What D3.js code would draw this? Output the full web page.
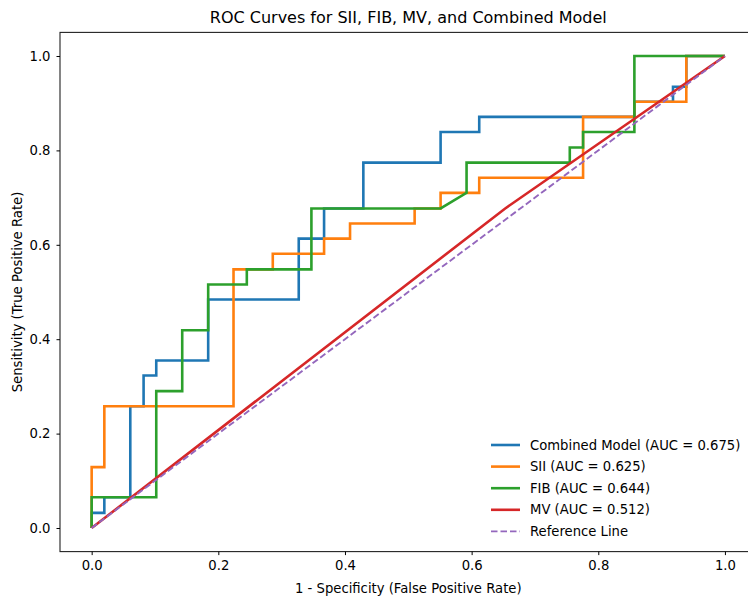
<!DOCTYPE html>
<html>
<head>
<meta charset="utf-8">
<script src="https://cdn.jsdelivr.net/npm/d3@7"></script>
<style>
  body { margin: 0; background: #fff; }
  text { font-family: "DejaVu Sans", sans-serif; fill: #000; }
</style>
</head>
<body>
<script>
// ROC points (fpr, tpr)
var combinedFpr = [0, 0, 0.020, 0.020, 0.061, 0.061, 0.082, 0.082, 0.102, 0.102, 0.184, 0.184, 0.327, 0.327, 0.367, 0.367, 0.429, 0.429, 0.551, 0.551, 0.612, 0.612, 0.857, 0.857, 0.918, 0.918, 0.939, 0.939, 1.0];
var combinedTpr = [0, 0.032, 0.032, 0.065, 0.065, 0.258, 0.258, 0.323, 0.323, 0.355, 0.355, 0.484, 0.484, 0.613, 0.613, 0.677, 0.677, 0.774, 0.774, 0.839, 0.839, 0.871, 0.871, 0.903, 0.903, 0.935, 0.935, 1.0, 1.0];

var siiFpr = [0, 0, 0.020, 0.020, 0.224, 0.224, 0.286, 0.286, 0.367, 0.367, 0.408, 0.408, 0.510, 0.510, 0.551, 0.551, 0.612, 0.612, 0.776, 0.776, 0.857, 0.857, 0.939, 0.939, 1.0];
var siiTpr = [0, 0.129, 0.129, 0.258, 0.258, 0.548, 0.548, 0.581, 0.581, 0.613, 0.613, 0.645, 0.645, 0.677, 0.677, 0.710, 0.710, 0.742, 0.742, 0.871, 0.871, 0.903, 0.903, 1.0, 1.0];

var fibFpr = [0, 0, 0.102, 0.102, 0.143, 0.143, 0.184, 0.184, 0.245, 0.245, 0.347, 0.347, 0.551, 0.592, 0.592, 0.755, 0.755, 0.776, 0.776, 0.857, 0.857, 1.0];
var fibTpr = [0, 0.065, 0.065, 0.290, 0.290, 0.419, 0.419, 0.516, 0.516, 0.548, 0.548, 0.677, 0.677, 0.710, 0.774, 0.774, 0.806, 0.806, 0.839, 0.839, 1.0, 1.0];

var mvFpr = [0, 0.653, 1.0];
var mvTpr = [0, 0.677, 1.0];

var refFpr = [0, 1];
var refTpr = [0, 1];

var labels = ["Combined Model (AUC = 0.675)", "SII (AUC = 0.625)", "FIB (AUC = 0.644)", "MV (AUC = 0.512)", "Reference Line"];
var colors = ["#1f77b4", "#ff7f0e", "#2ca02c", "#d62728", "#9467bd"];
var ticks = [0, 0.2, 0.4, 0.6, 0.8, 1.0];

var series = [
  { fpr: combinedFpr, tpr: combinedTpr },
  { fpr: siiFpr, tpr: siiTpr },
  { fpr: fibFpr, tpr: fibTpr },
  { fpr: mvFpr, tpr: mvTpr },
  { fpr: refFpr, tpr: refTpr, dashed: true }
];

var W = 748, H = 597;
var plotL = 60, plotR = 756.6, plotT = 32.4, plotB = 551.6;

var svg = d3.select("body").append("svg")
    .attr("width", W)
    .attr("height", H);

var x = d3.scaleLinear().domain([-0.05, 1.05]).range([plotL, plotR]);
var y = d3.scaleLinear().domain([-0.05, 1.05]).range([plotB, plotT]);

var line = d3.line()
    .x(function(d) { return x(d[0]); })
    .y(function(d) { return y(d[1]); });

// curves
series.forEach(function(s, i) {
  var pts = s.fpr.map(function(f, j) { return [f, s.tpr[j]]; });
  svg.append("path")
      .attr("d", line(pts))
      .attr("fill", "none")
      .attr("stroke", colors[i])
      .attr("stroke-width", s.dashed ? 1.9 : 2.6)
      .attr("stroke-dasharray", s.dashed ? "6.5,3" : null)
      .attr("stroke-linejoin", "miter")
      .attr("stroke-linecap", "butt");
});

// frame
svg.append("rect")
    .attr("x", plotL).attr("y", plotT)
    .attr("width", plotR - plotL).attr("height", plotB - plotT)
    .attr("fill", "none")
    .attr("stroke", "#222")
    .attr("stroke-width", 1.1);

var xAxis = svg.append("g")
    .attr("transform", "translate(0," + plotB + ")")
    .call(d3.axisBottom(x).tickValues(ticks).tickFormat(d3.format(".1f")).tickSize(3.5).tickPadding(5.5));
var yAxis = svg.append("g")
    .attr("transform", "translate(" + plotL + ",0)")
    .call(d3.axisLeft(y).tickValues(ticks).tickFormat(d3.format(".1f")).tickSize(3.5).tickPadding(6));

[xAxis, yAxis].forEach(function(g) {
  g.select(".domain").remove();
  g.selectAll("text").style("font-family", "DejaVu Sans").style("font-size", "13.2px");
});

svg.append("text")
    .attr("x", (plotL + plotR) / 2).attr("y", 23)
    .attr("text-anchor", "middle")
    .style("font-size", "16px")
    .text("ROC Curves for SII, FIB, MV, and Combined Model");

svg.append("text")
    .attr("x", (plotL + plotR) / 2).attr("y", 593)
    .attr("text-anchor", "middle")
    .style("font-size", "13.2px")
    .text("1 - Specificity (False Positive Rate)");

svg.append("text")
    .attr("transform", "translate(22," + ((plotT + plotB) / 2) + ") rotate(-90)")
    .attr("text-anchor", "middle")
    .style("font-size", "13.2px")
    .text("Sensitivity (True Positive Rate)");

// legend
var legend = svg.append("g").attr("transform", "translate(491,445)");
labels.forEach(function(lab, i) {
  var row = legend.append("g").attr("transform", "translate(0," + (i * 21.6) + ")");
  row.append("line")
      .attr("x1", 0).attr("x2", 29)
      .attr("stroke", colors[i])
      .attr("stroke-width", i === 4 ? 1.9 : 2.6)
      .attr("stroke-dasharray", i === 4 ? "6.5,3" : null);
  row.append("text")
      .attr("x", 39).attr("dy", "0.35em")
      .style("font-size", "13.2px")
      .text(lab);
});
</script>
</body>
</html>
